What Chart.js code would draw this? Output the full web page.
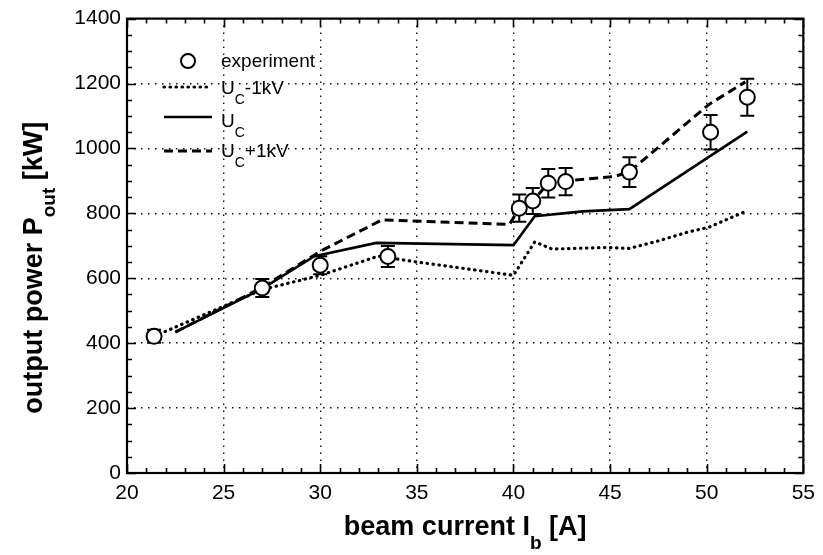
<!DOCTYPE html>
<html>
<head>
<meta charset="utf-8">
<script src="https://cdn.jsdelivr.net/npm/chart.js@4.4.1/dist/chart.umd.min.js"></script>
<style>
  body { margin: 0; background: #fff; }
  #wrap { width: 823px; height: 555px; }
</style>
</head>
<body>
<div id="wrap"><canvas id="powerChart" width="823" height="555"></canvas></div>
<script>
// experiment (circles with error bars)
var expX = [21.4, 27.0, 30.0, 33.5, 40.3, 41.0, 41.8, 42.7, 46.0, 50.2, 52.1];
var expY = [421, 570, 640, 667, 816, 838, 893, 898, 927, 1050, 1158];
var expErr = [20, 28, 28, 32, 42, 40, 44, 42, 46, 53, 57];

// U_C - 1kV (dotted)
var lowX = [21.4, 27.0, 30.0, 33.0, 35.0, 37.1, 40.0, 41.1, 42.0, 44.9, 46.0, 47.5, 49.0, 50.1, 51.9];
var lowY = [421, 565, 609, 668, 650, 633, 609, 712, 690, 695, 692, 715, 742, 757, 803];

// U_C (solid)
var midX = [22.5, 27.0, 29.7, 32.9, 40.0, 41.1, 43.6, 46.0, 52.1];
var midY = [434, 568, 668, 709, 702, 791, 806, 813, 1052];

// U_C + 1kV (dashed)
var highX = [22.5, 27.0, 30.0, 33.2, 39.8, 40.3, 41.0, 41.8, 42.7, 45.2, 46.0, 50.1, 52.0];
var highY = [434, 572, 683, 780, 766, 816, 838, 893, 900, 913, 928, 1135, 1205];

var xTicks = [20, 25, 30, 35, 40, 45, 50, 55];
var yTicks = [0, 200, 400, 600, 800, 1000, 1200, 1400];

var FONT = "'Liberation Sans', Arial, sans-serif";

function pts(xs, ys) {
    return xs.map(function (x, i) { return { x: x, y: ys[i] }; });
}

// text with subscripts, parts = [[text, isSub], ...]
function subText(ctx, parts, x, y, size, subSize, drop, weight, measureOnly) {
    var w = 0;
    parts.forEach(function (p) {
        ctx.font = weight + ' ' + (p[1] ? subSize : size) + 'px ' + FONT;
        if (!measureOnly) ctx.fillText(p[0], x + w, p[1] ? y + drop : y);
        w += ctx.measureText(p[0]).width;
    });
    return w;
}

var decor = {
    id: 'decor',
    beforeDatasetDraw: function (chart, args) {
        if (args.index !== 0) return;
        var ctx = chart.ctx, xs = chart.scales.x, ys = chart.scales.y;
        ctx.save();
        ctx.strokeStyle = '#000';
        ctx.lineWidth = 2;
        expX.forEach(function (v, i) {
            var px = xs.getPixelForValue(v);
            var top = ys.getPixelForValue(expY[i] + expErr[i]);
            var bot = ys.getPixelForValue(expY[i] - expErr[i]);
            ctx.beginPath();
            ctx.moveTo(px, top); ctx.lineTo(px, bot);
            ctx.moveTo(px - 7, top); ctx.lineTo(px + 7, top);
            ctx.moveTo(px - 7, bot); ctx.lineTo(px + 7, bot);
            ctx.stroke();
        });
        ctx.restore();
    },
    afterDraw: function (chart) {
        var ctx = chart.ctx, a = chart.chartArea;
        var xs = chart.scales.x, ys = chart.scales.y;
        ctx.save();
        ctx.strokeStyle = '#000';
        ctx.fillStyle = '#000';

        // tick marks on all four sides, pointing inward
        ctx.lineWidth = 1.6;
        ctx.beginPath();
        for (var v = 20; v <= 55; v += 1) {
            var px = Math.round(xs.getPixelForValue(v)) + 0.5;
            var len = (v % 5 === 0) ? 9 : 5;
            ctx.moveTo(px, a.bottom); ctx.lineTo(px, a.bottom - len);
            ctx.moveTo(px, a.top); ctx.lineTo(px, a.top + len);
        }
        for (var u = 0; u <= 1400; u += 50) {
            var py = Math.round(ys.getPixelForValue(u)) + 0.5;
            var l2 = (u % 200 === 0) ? 9 : 5;
            ctx.moveTo(a.left, py); ctx.lineTo(a.left + l2, py);
            ctx.moveTo(a.right, py); ctx.lineTo(a.right - l2, py);
        }
        ctx.stroke();

        // frame
        ctx.lineWidth = 2.2;
        ctx.strokeRect(a.left, a.top, a.right - a.left, a.bottom - a.top);

        // legend
        ctx.textBaseline = 'alphabetic';
        ctx.textAlign = 'left';
        ctx.lineWidth = 2;
        ctx.beginPath();
        ctx.arc(188, 61, 7, 0, Math.PI * 2);
        ctx.fillStyle = '#fff';
        ctx.fill();
        ctx.stroke();
        ctx.fillStyle = '#000';
        subText(ctx, [['experiment', false]], 221, 67, 19, 14, 10, 'normal');

        var samples = [
            { y: 87, dash: [0.5, 5.5], cap: 'round', w: 3.2, parts: [['U', false], ['C', true], ['-1kV', false]], base: 94 },
            { y: 117, dash: [], cap: 'butt', w: 2.6, parts: [['U', false], ['C', true]], base: 127 },
            { y: 151, dash: [9, 5], cap: 'butt', w: 3, parts: [['U', false], ['C', true], ['+1kV', false]], base: 157 }
        ];
        samples.forEach(function (s) {
            ctx.save();
            ctx.setLineDash(s.dash);
            ctx.lineCap = s.cap;
            ctx.lineWidth = s.w;
            ctx.beginPath();
            ctx.moveTo(164, s.y); ctx.lineTo(212, s.y);
            ctx.stroke();
            ctx.restore();
            subText(ctx, s.parts, 221, s.base, 19, 14, 10, 'normal');
        });

        // x axis title
        var xParts = [['beam current I', false], ['b', true], [' [A]', false]];
        var xw = subText(ctx, xParts, 0, 0, 27, 19, 14, 'bold', true);
        subText(ctx, xParts, (a.left + a.right) / 2 - xw / 2, 535, 27, 19, 14, 'bold');

        // y axis title
        var yParts = [['output power P', false], ['out', true], [' [kW]', false]];
        var yw = subText(ctx, yParts, 0, 0, 27, 19, 13, 'bold', true);
        ctx.translate(42, (a.top + a.bottom) / 2 + 22);
        ctx.rotate(-Math.PI / 2);
        subText(ctx, yParts, -yw / 2, 0, 27, 19, 13, 'bold');
        ctx.restore();
    }
};

var ctx = document.getElementById('powerChart').getContext('2d');
var myChart = new Chart(ctx, {
    type: 'scatter',
    data: {
        datasets: [
            {
                label: 'experiment',
                data: pts(expX, expY),
                showLine: false,
                pointStyle: 'circle',
                pointRadius: 7.5,
                pointBorderWidth: 2,
                pointBackgroundColor: '#fff',
                pointBorderColor: '#000'
            },
            {
                label: 'UC-1kV',
                data: pts(lowX, lowY),
                showLine: true,
                pointRadius: 0,
                borderColor: '#000',
                borderWidth: 3.2,
                borderDash: [0.5, 5.5],
                borderCapStyle: 'round',
                tension: 0
            },
            {
                label: 'UC',
                data: pts(midX, midY),
                showLine: true,
                pointRadius: 0,
                borderColor: '#000',
                borderWidth: 2.6,
                tension: 0
            },
            {
                label: 'UC+1kV',
                data: pts(highX, highY),
                showLine: true,
                pointRadius: 0,
                borderColor: '#000',
                borderWidth: 3,
                borderDash: [9, 5],
                tension: 0
            }
        ]
    },
    options: {
        responsive: false,
        animation: false,
        events: [],
        layout: { padding: { left: 0, top: 18, right: 14, bottom: 0 } },
        plugins: { legend: { display: false }, tooltip: { enabled: false } },
        scales: {
            x: {
                type: 'linear',
                min: 20, max: 55,
                afterBuildTicks: function (s) { s.ticks = xTicks.map(function (v) { return { value: v }; }); },
                afterFit: function (s) { s.height = 82; },
                ticks: {
                    color: '#000', padding: 8, maxRotation: 0,
                    font: { family: FONT, size: 21 },
                    callback: function (v) { return String(v); }
                },
                grid: { color: '#111', lineWidth: 1.4, drawTicks: false },
                border: { display: false, dash: [1.5, 5.5] }
            },
            y: {
                type: 'linear',
                min: 0, max: 1400,
                afterBuildTicks: function (s) { s.ticks = yTicks.map(function (v) { return { value: v }; }); },
                afterFit: function (s) { s.width = 127; },
                ticks: {
                    color: '#000', padding: 6,
                    font: { family: FONT, size: 21 },
                    callback: function (v) { return String(v); }
                },
                grid: { color: '#111', lineWidth: 1.4, drawTicks: false },
                border: { display: false, dash: [1.5, 5.5] }
            }
        }
    },
    plugins: [decor]
});
</script>
</body>
</html>
